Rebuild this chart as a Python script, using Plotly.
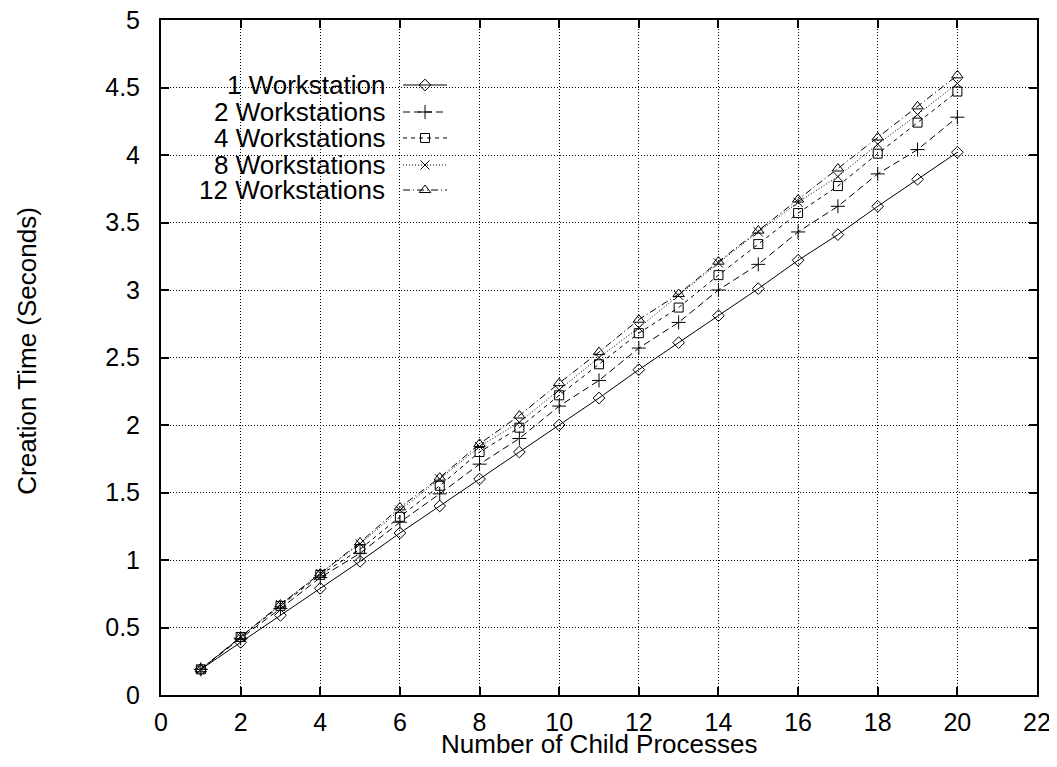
import plotly.graph_objects as go

# ---------------- data ----------------
child_processes = list(range(1, 21))

ws1 = [0.19, 0.39, 0.59, 0.79, 0.99, 1.20, 1.40, 1.60, 1.80, 2.00,
       2.20, 2.41, 2.61, 2.81, 3.01, 3.22, 3.41, 3.62, 3.82, 4.02]
ws2 = [0.19, 0.42, 0.64, 0.87, 1.05, 1.28, 1.49, 1.71, 1.90, 2.14,
       2.33, 2.57, 2.76, 3.00, 3.19, 3.43, 3.62, 3.86, 4.04, 4.28]
ws4 = [0.19, 0.43, 0.66, 0.89, 1.08, 1.32, 1.55, 1.80, 1.98, 2.22,
       2.45, 2.68, 2.87, 3.11, 3.34, 3.57, 3.77, 4.01, 4.24, 4.47]
ws8 = [0.19, 0.43, 0.67, 0.90, 1.12, 1.37, 1.60, 1.84, 2.02, 2.26,
       2.50, 2.72, 2.96, 3.20, 3.43, 3.65, 3.84, 4.08, 4.30, 4.53]
ws12 = [0.19, 0.43, 0.67, 0.90, 1.13, 1.39, 1.61, 1.86, 2.07, 2.31,
        2.54, 2.78, 2.97, 3.21, 3.44, 3.67, 3.90, 4.13, 4.36, 4.59]

series_names = ["1 Workstation", "2 Workstations", "4 Workstations",
                "8 Workstations", "12 Workstations"]
series_values = [ws1, ws2, ws4, ws8, ws12]

x_ticks = list(range(0, 23, 2))
y_ticks = [0, 0.5, 1, 1.5, 2, 2.5, 3, 3.5, 4, 4.5, 5]

x_title = "Number of Child Processes"
y_title = "Creation Time (Seconds)"

# ---------------- style ----------------
symbols = ["diamond-open", "cross-thin-open", "square-open", "x-thin-open", "triangle-up-open"]
marker_sizes = [9, 10, 9, 9, 10]
dashes = ["solid", "7px,4px", "4px,4px", "1px,2px", "7px,3px,1px,3px"]
FONT = "Liberation Sans, Arial, Helvetica, sans-serif"
FS = 26
TICK_FS = 25

fig = go.Figure()

for name, vals, sym, ms, dash in zip(series_names, series_values, symbols, marker_sizes, dashes):
    fig.add_trace(go.Scatter(
        x=child_processes, y=vals, name=name, mode="lines+markers",
        line=dict(color="black", width=1, dash=dash),
        marker=dict(symbol=sym, size=ms, color="black", line=dict(color="black", width=1)),
        showlegend=False,
    ))

# --- custom gnuplot-style key (text left, sample right), on an overlay axis ---
key_rows = [0.9037, 0.8637, 0.8252, 0.7852, 0.7481]
key_line = [0.2763, 0.3265]
key_mark = 0.3014
key_text_x = 0.2580
for name, sym, ms, dash, ky in zip(series_names, symbols, marker_sizes, dashes, key_rows):
    fig.add_trace(go.Scatter(
        x=key_line, y=[ky, ky], mode="lines", xaxis="x2", yaxis="y2",
        line=dict(color="black", width=1, dash=dash), showlegend=False, hoverinfo="skip"))
    fig.add_trace(go.Scatter(
        x=[key_mark], y=[ky], mode="markers", xaxis="x2", yaxis="y2",
        marker=dict(symbol=sym, size=ms, color="black", line=dict(color="black", width=1)),
        showlegend=False, hoverinfo="skip"))
    fig.add_annotation(x=key_text_x, y=ky, xref="x2", yref="y2", text=name,
                       showarrow=False, xanchor="right", yanchor="middle",
                       font=dict(family=FONT, size=FS, color="black"))

# axis titles as annotations for precise placement
fig.add_annotation(x=0.5, y=0, xref="paper", yref="paper", yshift=-49, text=x_title,
                   showarrow=False, xanchor="center", yanchor="middle",
                   font=dict(family=FONT, size=FS, color="black"))
fig.add_annotation(x=0, y=0.51, xref="paper", yref="paper", xshift=-134, text=y_title,
                   textangle=-90, showarrow=False, xanchor="center", yanchor="middle",
                   font=dict(family=FONT, size=FS, color="black"))

axis_common = dict(
    showline=True, linecolor="black", linewidth=2, mirror="ticks",
    ticks="inside", ticklen=8, tickwidth=1.5, tickcolor="black",
    showgrid=True, gridcolor="black", gridwidth=1, griddash="1px,2px",
    zeroline=False, ticklabeloverflow="allow",
    tickfont=dict(family=FONT, size=TICK_FS, color="black"),
)

# page body has an 8px default margin: figure is placed so the plot area
# lands where the reference has it inside the 1057x767 window
fig.update_layout(
    width=1049, height=751,
    margin=dict(l=153, r=20, t=12, b=64, autoexpand=False),
    paper_bgcolor="white", plot_bgcolor="white",
    font=dict(family=FONT, size=FS, color="black"),
    xaxis=dict(range=[0, 22], tickvals=x_ticks, ticklabelstandoff=4, **axis_common),
    yaxis=dict(range=[0, 5], tickvals=y_ticks, ticktext=[f"{v:g}" for v in y_ticks],
               ticklabelstandoff=14, **axis_common),
    xaxis2=dict(overlaying="x", range=[0, 1], visible=False),
    yaxis2=dict(overlaying="y", range=[0, 1], visible=False),
    showlegend=False,
)

fig.write_html("out.html")
